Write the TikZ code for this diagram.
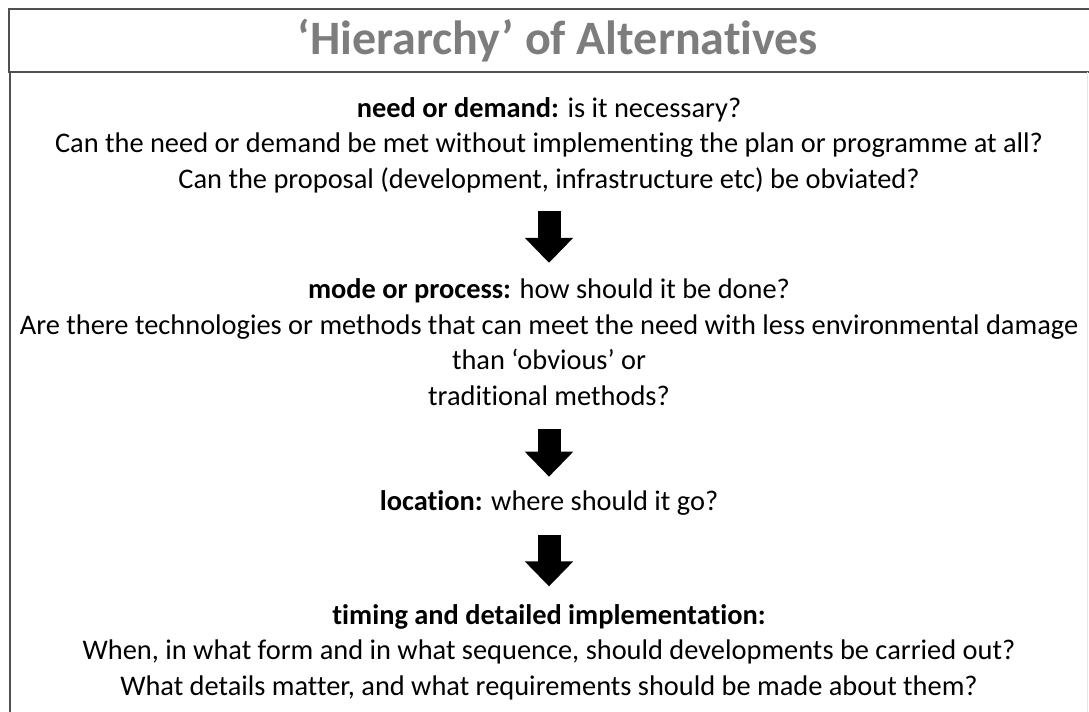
\documentclass[tikz,border=0pt]{standalone}
\usepackage{fontspec}
\setmainfont{Carlito}[Ligatures={TeX,NoCommon}]
\usepackage{xcolor}
\usetikzlibrary{arrows.meta,positioning}

\definecolor{titlegray}{RGB}{125,125,125}
\definecolor{framegray}{RGB}{80,80,80}

\begin{document}
\begin{tikzpicture}[x=0.75pt,y=-0.75pt,
  body/.style={align=center,inner sep=0pt,font=\fontsize{21.3}{26.6}\selectfont},
  bigarrow/.style={line width=17.25pt,-{Triangle[length=18.75pt,width=35.25pt]}}]

  \useasboundingbox (0,0) rectangle (1089,711);

  % Frame = title bar and body
  \draw[framegray,line width=1.5pt] (1095,9) -- (9,9) -- (9,72) -- (1095,72);
  \draw[framegray,line width=1.5pt] (10,72) -- (10,715);
  \draw[black!10,line width=0.75pt] (1087,72) -- (1087,715);

  % Title
  \node[font=\fontsize{36}{40}\bfseries\selectfont,text=titlegray] (title) at (558,41)
    {`Hierarchy' of Alternatives};

  % Steps of the hierarchy
  \node[body] (need) at (549,145) {\textbf{need or demand:} is it necessary?\\
    Can the need or demand be met without implementing the plan or programme at all?\\
    Can the proposal (development, infrastructure etc) be obviated?};
  \node[body] (mode) at (549,342) {\textbf{mode or process:} how should it be done?\\
    Are there technologies or methods that can meet the need with less environmental damage\\
    than `obvious' or\\
    traditional methods?};
  \node[body] (location) at (549,503) {\textbf{location:} where should it go?};
  \node[body] (timing) at (549,652) {\textbf{timing and detailed implementation:}\\
    When, in what form and in what sequence, should developments be carried out?\\
    What details matter, and what requirements should be made about them?};

  % Block arrows
  \draw[bigarrow,shorten <=13.5pt,shorten >=11.75pt] (need.south) -- (mode.north);
  \draw[bigarrow,shorten <=17.75pt,shorten >=10.25pt] (mode.south) -- (location.north);
  \draw[bigarrow,shorten <=14.75pt,shorten >=13.25pt] (location.south) -- (timing.north);

\end{tikzpicture}
\end{document}
